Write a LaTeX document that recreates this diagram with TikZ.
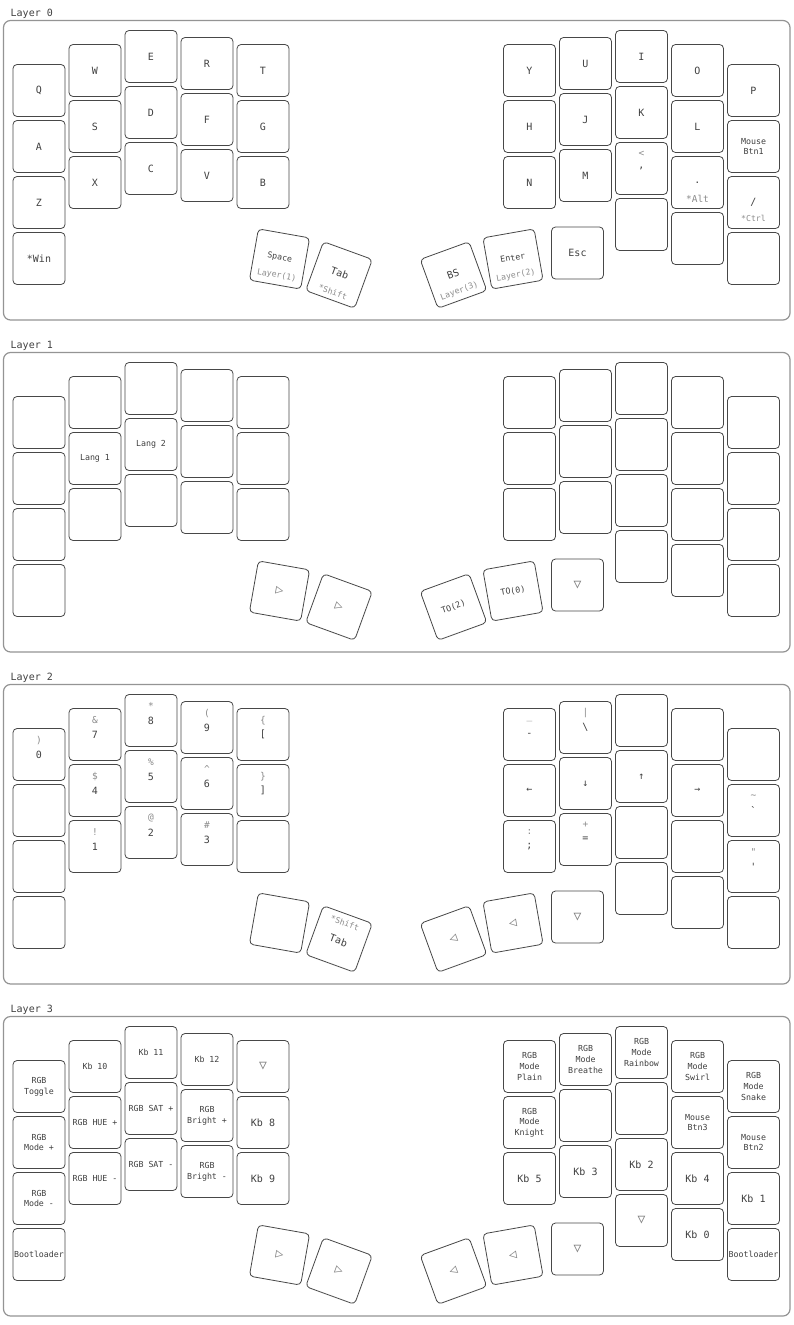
\documentclass[tikz,border=0pt]{standalone}
\usepackage{fontspec}
\newfontfamily\keyfont{DejaVu Sans Mono}
\usepackage{tikz}
\usetikzlibrary{calc}

\begin{document}
\begin{tikzpicture}[
    x=1pt, y=-1pt,
    keycap/.style={rectangle, draw=black!72, line width=0.8pt, rounded corners=4pt, fill=white,
      minimum width=52pt, minimum height=52pt, inner sep=0pt, outer sep=0pt},
    layerbox/.style={rectangle, draw=black!42, line width=1.2pt, rounded corners=7pt,
      minimum width=786.5pt, minimum height=299.5pt, inner sep=0pt},
    layername/.style={font=\keyfont\fontsize{10}{12}\selectfont, text=black!75, anchor=west, inner sep=0pt},
    taplbl/.style={font=\keyfont\fontsize{10}{11}\selectfont, text=black!75, inner sep=0pt},
    tapsm/.style={font=\keyfont\fontsize{8.3}{10.7}\selectfont, text=black!75, align=center, inner sep=0pt},
    shiftlbl/.style={font=\keyfont\fontsize{9.5}{11}\selectfont, text=black!45, inner sep=0pt},
    holdsm/.style={font=\keyfont\fontsize{8.2}{10}\selectfont, text=black!45, inner sep=0pt},
    transkey/.style={font=\keyfont\fontsize{13}{13}\selectfont, text=black!50, inner sep=0pt}
]
\fill[white] (0,0) rectangle (794,1325);
\useasboundingbox (0,0) rectangle (794,1325);

% frames and blank keycaps, one block per layer
\foreach \ly in {0,...,3} {
  \begin{scope}[shift={(0,332*\ly)}]
    \node[layername] (name\ly) at (10.5,14) {Layer \ly};
    \node[layerbox] (box\ly) at (396.75,170.25) {};
    % left half
    \foreach \cx/\cy/\n [count=\c] in {39/90.5/4, 95/70.5/3, 151/56.5/3, 207/63.5/3, 263/70.5/3}
      \foreach \r in {1,...,\n}
        \node[keycap] (k\ly-L\c-\r) at (\cx,{\cy+56*(\r-1)}) {};
    % right half
    \foreach \cx/\cy/\n [count=\c] in {529.5/70.5/3, 585.5/63.5/3, 641.5/56.5/4, 697.5/70.5/4, 753.5/90.5/4}
      \foreach \r in {1,...,\n}
        \node[keycap] (k\ly-R\c-\r) at (\cx,{\cy+56*(\r-1)}) {};
    % thumbs
    \node[keycap, rotate=-10] (k\ly-TL1) at (279.5,259) {};
    \node[keycap, rotate=-20] (k\ly-TL2) at (339,275) {};
    \node[keycap, rotate=20] (k\ly-TR1) at (453.5,275) {};
    \node[keycap, rotate=10] (k\ly-TR2) at (513,259) {};
    \node[keycap] (k\ly-TR3) at (577.5,253) {};
  \end{scope}
}

% layer 0
\foreach \k/\t in {L1-1/Q, L1-2/A, L1-3/Z, L1-4/*Win, L2-1/W, L2-2/S, L2-3/X, L3-1/E, L3-2/D, L3-3/C,
    L4-1/R, L4-2/F, L4-3/V, L5-1/T, L5-2/G, L5-3/B, R1-1/Y, R1-2/H, R1-3/N, R2-1/U, R2-2/J, R2-3/M,
    R3-1/I, R3-2/K, R3-3/{,}, R4-1/O, R4-2/L, R4-3/., R5-1/P, R5-3/{/}, TR3/Esc}
  \node[taplbl] (t0-\k) at (k0-\k) {\t};
\node[tapsm] (t0-R5-2) at (k0-R5-2) {Mouse\\Btn1};
\node[shiftlbl] (s0-R3-3) at ($(k0-R3-3)!0.55!(k0-R3-3.north)$) {<};
\node[shiftlbl] (h0-R4-3) at ($(k0-R4-3)!0.62!(k0-R4-3.south)$) {*Alt};
\node[holdsm] (h0-R5-3) at ($(k0-R5-3)!0.62!(k0-R5-3.south)$) {*Ctrl};
\node[tapsm, rotate=-10] (t0-TL1) at ($(k0-TL1)!0.05!(k0-TL1.north)$) {Space};
\node[holdsm, rotate=-10] (h0-TL1) at ($(k0-TL1)!0.64!(k0-TL1.south)$) {Layer(1)};
\node[taplbl, rotate=-20] (t0-TL2) at ($(k0-TL2)!0.08!(k0-TL2.north)$) {Tab};
\node[holdsm, rotate=-20] (h0-TL2) at ($(k0-TL2)!0.7!(k0-TL2.south)$) {*Shift};
\node[taplbl, rotate=20] (t0-TR1) at ($(k0-TR1)!0.05!(k0-TR1.north)$) {BS};
\node[holdsm, rotate=20] (h0-TR1) at ($(k0-TR1)!0.66!(k0-TR1.south)$) {Layer(3)};
\node[tapsm, rotate=10] (t0-TR2) at ($(k0-TR2)!0.05!(k0-TR2.north)$) {Enter};
\node[holdsm, rotate=10] (h0-TR2) at ($(k0-TR2)!0.64!(k0-TR2.south)$) {Layer(2)};

% layer 1
\node[tapsm] (t1-L2-2) at (k1-L2-2) {Lang 1};
\node[tapsm] (t1-L3-2) at (k1-L3-2) {Lang 2};
\node[transkey, rotate=-10] (t1-TL1) at (k1-TL1) {▷};
\node[transkey, rotate=-20] (t1-TL2) at (k1-TL2) {▷};
\node[tapsm, rotate=20] (t1-TR1) at (k1-TR1) {TO(2)};
\node[tapsm, rotate=10] (t1-TR2) at (k1-TR2) {TO(0)};
\node[transkey] (t1-TR3) at (k1-TR3) {▽};

% layer 2
\foreach \k/\s/\t in {L1-1/)/0, L2-1/\&/7, L2-2/\$/4, L2-3/!/1, L3-1/*/8, L3-2/\%/5, L3-3/@/2,
    L4-1/(/9, L4-2/\textasciicircum/6, L4-3/\#/3, L5-1/\{/[, L5-2/\}/], R1-1/\_/-,
    R2-1/|/\textbackslash, R1-3/:/;, R2-3/+/=, R5-2/\textasciitilde/`, R5-3/"/'} {
  \node[shiftlbl] (s2-\k) at ($(k2-\k)!0.55!(k2-\k.north)$) {\s};
  \node[taplbl] (t2-\k) at (k2-\k) {\t};
}
\foreach \k/\t in {R1-2/←, R2-2/↓, R3-2/↑, R4-2/→}
  \node[taplbl] (t2-\k) at (k2-\k) {\t};
\node[holdsm, rotate=-20] (s2-TL2) at ($(k2-TL2)!0.66!(k2-TL2.north)$) {*Shift};
\node[taplbl, rotate=-20] (t2-TL2) at ($(k2-TL2)!0.06!(k2-TL2.south)$) {Tab};
\node[transkey, rotate=20] (t2-TR1) at (k2-TR1) {◁};
\node[transkey, rotate=10] (t2-TR2) at (k2-TR2) {◁};
\node[transkey] (t2-TR3) at (k2-TR3) {▽};

% layer 3
\foreach \k/\t in {L1-1/RGB\\Toggle, L1-2/RGB\\Mode +, L1-3/RGB\\Mode -, L1-4/Bootloader,
    L2-1/Kb 10, L2-2/RGB HUE +, L2-3/RGB HUE -, L3-1/Kb 11, L3-2/RGB SAT +, L3-3/RGB SAT -,
    L4-1/Kb 12, L4-2/RGB\\Bright +, L4-3/RGB\\Bright -, R1-1/RGB\\Mode\\Plain, R1-2/RGB\\Mode\\Knight,
    R2-1/RGB\\Mode\\Breathe, R3-1/RGB\\Mode\\Rainbow, R4-1/RGB\\Mode\\Swirl, R4-2/Mouse\\Btn3,
    R5-1/RGB\\Mode\\Snake, R5-2/Mouse\\Btn2, R5-4/Bootloader}
  \node[tapsm] (t3-\k) at (k3-\k) {\t};
\foreach \k/\t in {L5-2/Kb 8, L5-3/Kb 9, R1-3/Kb 5, R2-3/Kb 3, R3-3/Kb 2, R4-3/Kb 4, R4-4/Kb 0, R5-3/Kb 1}
  \node[taplbl] (t3-\k) at (k3-\k) {\t};
\foreach \k in {L5-1, R3-4, TR3}
  \node[transkey] (t3-\k) at (k3-\k) {▽};
\node[transkey, rotate=-10] (t3-TL1) at (k3-TL1) {▷};
\node[transkey, rotate=-20] (t3-TL2) at (k3-TL2) {▷};
\node[transkey, rotate=20] (t3-TR1) at (k3-TR1) {◁};
\node[transkey, rotate=10] (t3-TR2) at (k3-TR2) {◁};
\end{tikzpicture}
\end{document}
